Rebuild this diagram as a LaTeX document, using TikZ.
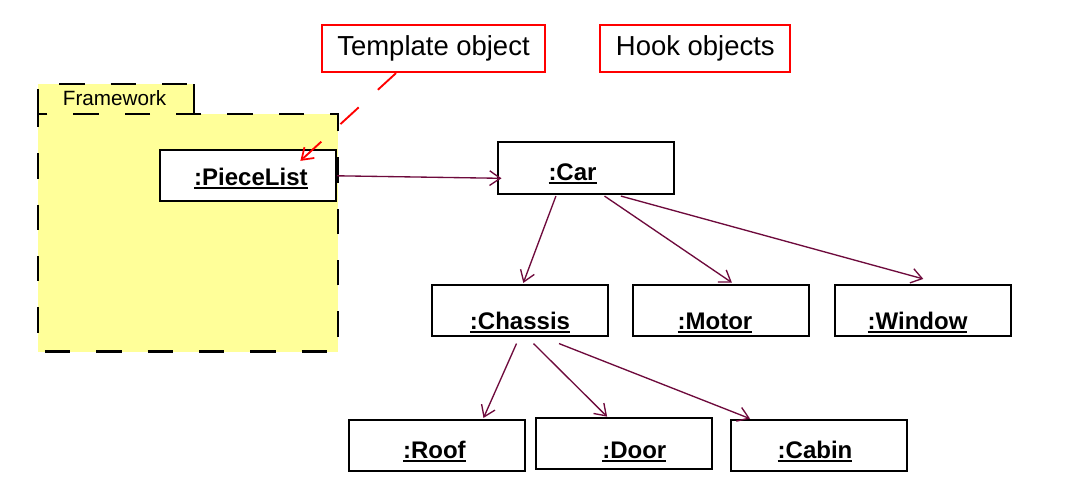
\documentclass[tikz,border=0pt]{standalone}
\usepackage{fontspec}
\setmainfont{Liberation Sans}
\usetikzlibrary{arrows.meta,calc}
\definecolor{linkc}{HTML}{6E0A3C}
\definecolor{fwyellow}{HTML}{FFFF99}
\definecolor{notered}{HTML}{FF0000}
\newcommand\objname[1]{\setbox0\hbox{\bfseries #1}\rlap{\rule[-3pt]{\wd0}{1.4pt}}\box0}
\tikzset{
  objbox/.style={draw=black, line width=1.5pt, fill=white, rectangle, inner sep=0pt,
    minimum width=132pt, minimum height=38.5pt},
  objtext/.style={anchor=base, inner sep=0pt, font=\fontsize{18}{20}\selectfont\bfseries},
  notebox/.style={draw=notered, line width=1.5pt, fill=white, rectangle, inner sep=0pt,
    minimum height=35pt, font=\fontsize{20.6}{24}\selectfont},
  fwline/.style={draw=black, line width=1.9pt, dash pattern=on 19pt off 19.5pt},
  linkarrow/.style={draw=linkc, line width=1pt, -{Straight Barb[length=8pt,width=11pt,line width=1pt]}},
  notearrow/.style={draw=notered, line width=1.4pt, dash pattern=on 18.5pt off 19.5pt,
    -{Straight Barb[length=8pt,width=11pt,line width=1.3pt]}},
}
\begin{document}
\begin{tikzpicture}[x=0.75pt,y=-0.75pt]
\useasboundingbox (0,0) rectangle (1084,486);
\fill[white] (0,0) rectangle (1084,486);

% Framework package
\fill[fwyellow] (38,84) rectangle (194,114);
\fill[fwyellow] (38,114) rectangle (338,351.7);
\draw[fwline, dash phase=0pt] (38,114) -- (38,84) -- (194,84);
\draw[draw=black, line width=1.9pt] (194,84) -- (194,114);
\draw[fwline, dash phase=9pt] (38,114) -- (38,351.7) -- (338,351.7) -- (338,114) -- (38,114);
\node[anchor=base, inner sep=0pt, font=\fontsize{15.5}{18}\selectfont] (fwlabel) at (114.6,105) {Framework};

% object boxes
\node[objbox] (piecelist) at (248,175.8) {};
\node[objbox] (car) at (585.5,168) {};
\node[objbox] (chassis) at (520.1,310.3) {};
\node[objbox] (motor) at (720.8,310.3) {};
\node[objbox] (window) at (922.6,310.3) {};
\node[objbox] (roof) at (436.5,445.3) {};
\node[objbox] (door) at (624.3,443.3) {};
\node[objbox] (cabin) at (818.5,445.3) {};

\node[objtext] (piecelistT) at (250.9,185) {\objname{:PieceList}};
\node[objtext] (carT) at (572.5,180) {\objname{:Car}};
\node[objtext] (chassisT) at (520,329) {\objname{:Chassis}};
\node[objtext] (motorT) at (715,329) {\objname{:Motor}};
\node[objtext] (windowT) at (917.5,329) {\objname{:Window}};
\node[objtext] (roofT) at (434.4,458.3) {\objname{:Roof}};
\node[objtext] (doorT) at (634.3,458.3) {\objname{:Door}};
\node[objtext] (cabinT) at (815,458.3) {\objname{:Cabin}};

% notes
\node[notebox, minimum width=167.5pt] (template) at (433.5,48.3) {Template object};
\node[notebox, minimum width=142.5pt] (hook) at (695.3,48.3) {Hook objects};

% links
\draw[linkarrow] (piecelist.east) -- ($(car.west)+(5,10.3)$);
\draw[linkarrow] ($(car.south)+(-29.6,1.4)$) -- ($(chassis.north)+(3.2,-0.7)$);
\draw[linkarrow] ($(car.south)+(19,1.4)$) -- ($(motor.north)+(11.1,-1)$);
\draw[linkarrow] ($(car.south)+(35.4,1.4)$) -- ($(window.north)+(0.7,-4.7)$);
\draw[linkarrow] ($(chassis.south)+(-3.6,6.6)$) -- ($(roof.north)+(47,-0.7)$);
\draw[linkarrow] ($(chassis.south)+(13.4,6.6)$) -- ($(door.north)+(-17.2,0)$);
\draw[linkarrow] ($(chassis.south)+(38.9,6.6)$) -- ($(cabin.north)+(-68.5,0)$);

% note arrow
\draw[notearrow] ($(template.south)+(-37.5,0.5)$) -- ($(piecelist.north)+(52.4,11.7)$);
\end{tikzpicture}
\end{document}
